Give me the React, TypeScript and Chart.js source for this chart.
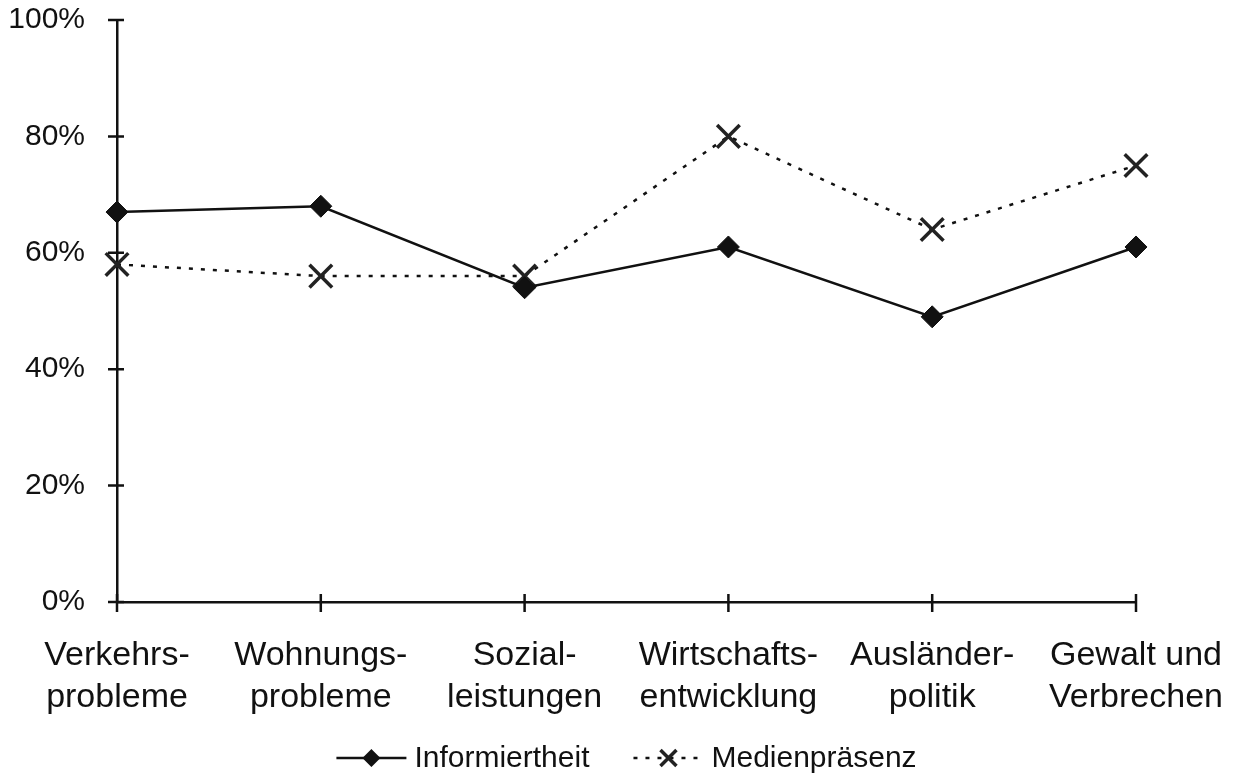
import React, { useEffect, useRef } from "react";
import { Chart, registerables } from "chart.js";

Chart.register(...registerables);

const categories: string[][] = [
  ["Verkehrs-", "probleme"],
  ["Wohnungs-", "probleme"],
  ["Sozial-", "leistungen"],
  ["Wirtschafts-", "entwicklung"],
  ["Ausländer-", "politik"],
  ["Gewalt und", "Verbrechen"],
];

const informiertheit = [67, 68, 54, 61, 49, 61];
const medienpraesenz = [58, 56, 56, 80, 64, 75];

const yMin = 0;
const yMax = 100;
const yStep = 20;

const seriesNames = ["Informiertheit", "Medienpräsenz"];

const FONT = "'Liberation Sans', Arial, sans-serif";
const INK = "#111111";

const crossTicksPlugin = {
  id: "crossTicks",
  afterDatasetsDraw(chart: any) {
    const { ctx } = chart;
    const xs = chart.scales.x;
    const ys = chart.scales.y;
    const axisX = xs.left;
    const axisY = ys.bottom;
    ctx.save();
    ctx.strokeStyle = INK;
    ctx.lineWidth = 2.5;
    ctx.beginPath();
    ys.ticks.forEach((_t: any, i: number) => {
      const py = ys.getPixelForTick(i);
      ctx.moveTo(axisX - 9, py);
      ctx.lineTo(axisX + 7, py);
    });
    xs.ticks.forEach((_t: any, i: number) => {
      const px = xs.getPixelForTick(i);
      ctx.moveTo(px, axisY - 8);
      ctx.lineTo(px, axisY + 10);
    });
    ctx.stroke();
    ctx.restore();
  },
};

const legendPlugin = {
  id: "customLegend",
  afterDraw(chart: any) {
    const { ctx, width, height } = chart;
    const ds = chart.data.datasets;
    const fontSize = 30;
    ctx.save();
    ctx.font = `${fontSize}px ${FONT}`;
    const sampleW = 70;
    const gapText = 8;
    const gapItems = 44;
    const widths = ds.map((d: any) => ctx.measureText(d.label).width);
    const total =
      ds.reduce(
        (acc: number, _d: any, i: number) => acc + sampleW + gapText + widths[i],
        0
      ) +
      gapItems * (ds.length - 1);
    let x = (width - total) / 2 + 6;
    const cy = height - 21;
    ds.forEach((d: any, i: number) => {
      ctx.save();
      ctx.strokeStyle = d.borderColor;
      ctx.lineWidth = d.borderWidth;
      ctx.setLineDash(d.borderDash || []);
      ctx.beginPath();
      ctx.moveTo(x, cy);
      ctx.lineTo(x + sampleW, cy);
      ctx.stroke();
      ctx.setLineDash([]);
      ctx.fillStyle = d.pointBackgroundColor;
      ctx.strokeStyle = d.pointBorderColor;
      ctx.lineWidth = d.pointBorderWidth;
      const px = x + sampleW / 2;
      if (d.pointStyle === "rectRot") {
        const r = 9;
        ctx.beginPath();
        ctx.moveTo(px - r, cy);
        ctx.lineTo(px, cy - r);
        ctx.lineTo(px + r, cy);
        ctx.lineTo(px, cy + r);
        ctx.closePath();
        ctx.fill();
      } else {
        const r = 8;
        ctx.beginPath();
        ctx.moveTo(px - r, cy - r);
        ctx.lineTo(px + r, cy + r);
        ctx.moveTo(px + r, cy - r);
        ctx.lineTo(px - r, cy + r);
        ctx.stroke();
      }
      ctx.restore();
      ctx.fillStyle = INK;
      ctx.textAlign = "left";
      ctx.textBaseline = "middle";
      ctx.fillText(d.label, x + sampleW + gapText, cy + 1);
      x += sampleW + gapText + widths[i] + gapItems;
    });
    ctx.restore();
  },
};

export default function App() {
  const canvasRef = useRef<HTMLCanvasElement | null>(null);

  useEffect(() => {
    document.body.style.margin = "0";
    document.body.style.background = "#ffffff";
    const canvas = canvasRef.current;
    if (!canvas) return;
    const chart = new Chart(canvas, {
      type: "line",
      data: {
        labels: categories,
        datasets: [
          {
            label: seriesNames[0],
            data: informiertheit,
            borderColor: INK,
            borderWidth: 2.5,
            pointStyle: "rectRot",
            pointRadius: 11,
            pointHoverRadius: 11,
            pointBackgroundColor: INK,
            pointBorderColor: INK,
            pointBorderWidth: 1,
            tension: 0,
            clip: false,
          } as any,
          {
            label: seriesNames[1],
            data: medienpraesenz,
            borderColor: INK,
            borderWidth: 2.5,
            borderDash: [4, 8],
            pointStyle: "crossRot",
            pointRadius: 16,
            pointHoverRadius: 16,
            pointBackgroundColor: INK,
            pointBorderColor: "#222222",
            pointBorderWidth: 3.5,
            tension: 0,
            clip: false,
          } as any,
        ],
      },
      options: {
        responsive: false,
        animation: false,
        events: [],
        layout: { padding: { top: 20, right: 105, bottom: 0, left: 0 } },
        plugins: {
          legend: { display: false },
          tooltip: { enabled: false },
        },
        scales: {
          x: {
            type: "category",
            offset: false,
            grid: { display: true, drawOnChartArea: false, drawTicks: false },
            border: { display: true, color: INK, width: 2.5 },
            ticks: {
              autoSkip: false,
              maxRotation: 0,
              minRotation: 0,
              padding: 33,
              color: INK,
              font: { family: FONT, size: 34, lineHeight: 1.22 },
            },
            afterFit: (s: any) => {
              s.height = 177;
              s.paddingLeft = 0;
              s.paddingRight = 0;
              s.paddingTop = 0;
              s.paddingBottom = 0;
            },
          },
          y: {
            min: yMin,
            max: yMax,
            grid: { display: true, drawOnChartArea: false, drawTicks: false },
            border: { display: true, color: INK, width: 2.5 },
            ticks: {
              stepSize: yStep,
              padding: 32,
              color: INK,
              font: { family: FONT, size: 30 },
              callback: (v: any) => `${v}%`,
            },
            afterFit: (s: any) => {
              s.width = 117;
              s.paddingLeft = 0;
              s.paddingRight = 0;
              s.paddingTop = 0;
              s.paddingBottom = 0;
            },
          },
        },
      },
      plugins: [crossTicksPlugin, legendPlugin],
    });
    return () => chart.destroy();
  }, []);

  return (
    <div style={{ width: 1241, height: 779, background: "#fff" }}>
      <canvas ref={canvasRef} width={1241} height={779} style={{ display: "block" }} />
    </div>
  );
}
